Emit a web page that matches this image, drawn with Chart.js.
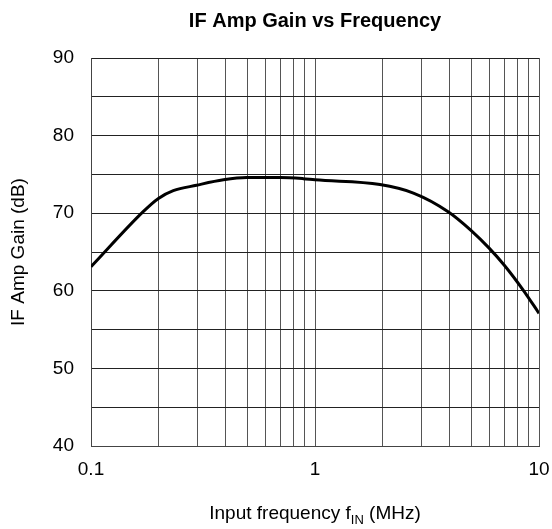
<!DOCTYPE html>
<html lang="en">
<head>
  <meta charset="UTF-8" />
  <title>IF Amp Gain vs Frequency</title>
  <script src="https://cdn.jsdelivr.net/npm/chart.js"></script>
  <style>
    html, body { margin: 0; padding: 0; background: #fff; }
    #wrap { width: 552px; height: 529px; }
  </style>
</head>
<body>
  <div id="wrap"><canvas id="gainChart" width="552" height="529"></canvas></div>
  <script>
    // frequency in MHz, gain in dB
    const freqMHz = [0.1, 0.171, 0.2, 0.233, 0.296, 0.39, 0.495, 0.7, 0.886, 1.0, 1.95, 2.75, 3.93, 4.97, 5.99, 7.0, 8.5, 10];
    const gainDb  = [63.1, 70.2, 71.9, 72.9, 73.6, 74.3, 74.6, 74.6, 74.45, 74.3, 73.7, 72.6, 70.2, 67.8, 65.5, 63.3, 60.1, 57.1];
    const xLabels = [0.1, 1, 10];
    const yRange = [40, 90];

    const FONT = '"Liberation Sans", Arial, sans-serif';

    // title is centred over the plot area, and the x title has a subscript,
    // so both are drawn by hand
    const textPlugin = {
      id: 'texts',
      afterDraw(chart) {
        const ctx = chart.ctx;
        const area = chart.chartArea;
        const cx = (area.left + area.right) / 2;
        ctx.save();
        ctx.fillStyle = '#000';
        ctx.textBaseline = 'middle';

        ctx.font = 'bold 20px ' + FONT;
        ctx.textAlign = 'center';
        ctx.fillText('IF Amp Gain vs Frequency', cx, 21);

        const y = 514;
        const big = '19px ' + FONT, small = '13px ' + FONT;
        const a = 'Input frequency f', b = 'IN', c = ' (MHz)';
        ctx.font = big;
        const wa = ctx.measureText(a).width, wc = ctx.measureText(c).width;
        ctx.font = small;
        const wb = ctx.measureText(b).width;
        let x = cx - (wa + wb + wc) / 2;
        ctx.textAlign = 'left';
        ctx.font = big;
        ctx.fillText(a, x, y); x += wa;
        ctx.font = small;
        ctx.fillText(b, x, y + 6); x += wb;
        ctx.font = big;
        ctx.fillText(c, x, y);
        ctx.restore();
      }
    };

    new Chart(document.getElementById('gainChart'), {
      type: 'line',
      data: {
        datasets: [{
          data: freqMHz.map((f, i) => ({ x: f, y: gainDb[i] })),
          borderColor: '#000',
          borderWidth: 3,
          pointRadius: 0,
          tension: 0.4,
          cubicInterpolationMode: 'monotone',
          fill: false
        }]
      },
      options: {
        responsive: false,
        animation: false,
        layout: { padding: { top: 58, right: 13 } },
        plugins: {
          legend: { display: false },
          tooltip: { enabled: false },
          title: { display: false }
        },
        scales: {
          x: {
            type: 'logarithmic',
            min: 0.1,
            max: 10,
            afterFit(s) { s.height = 83; s.paddingLeft = 0; s.paddingRight = 0; },
            afterBuildTicks(s) {
              const t = [];
              for (let d = 0.1; d < 10; d *= 10) {
                for (let k = 1; k <= 9; k++) t.push({ value: +(d * k).toPrecision(3) });
              }
              t.push({ value: 10 });
              s.ticks = t;
            },
            border: { color: '#444', width: 1 },
            grid: { color: '#555', drawTicks: false },
            ticks: {
              autoSkip: false,
              maxRotation: 0,
              padding: 12,
              color: '#000',
              font: { family: FONT, size: 19 },
              callback: v => xLabels.includes(+v.toPrecision(3)) ? String(+v.toPrecision(3)) : ''
            }
          },
          y: {
            min: yRange[0],
            max: yRange[1],
            afterFit(s) { s.width = 91; s.paddingTop = 0; s.paddingBottom = 0; },
            border: { color: '#444', width: 1 },
            grid: { color: '#222', drawTicks: false },
            ticks: {
              stepSize: 5,
              padding: 17,
              color: '#000',
              font: { family: FONT, size: 19 },
              callback: v => v % 10 === 0 ? v : ''
            },
            title: {
              display: true,
              text: 'IF Amp Gain (dB)',
              color: '#000',
              font: { family: FONT, size: 19 },
              padding: { top: 7, bottom: 0 }
            }
          }
        }
      },
      plugins: [textPlugin]
    });
  </script>
</body>
</html>
